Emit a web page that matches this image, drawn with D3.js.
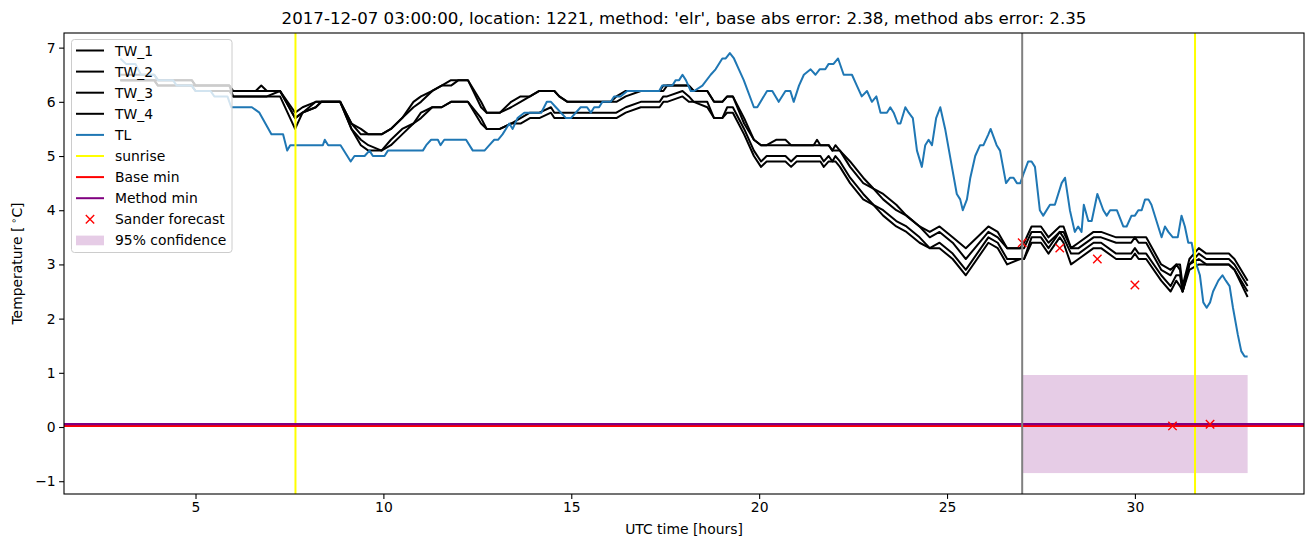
<!DOCTYPE html>
<html><head><meta charset="utf-8">
<script src="https://cdn.jsdelivr.net/npm/d3@7"></script>
<style>body{margin:0;background:#fff}svg{display:block}text{font-family:"DejaVu Sans",sans-serif}</style>
</head><body><svg id="c" width="1313" height="547"></svg>
<script>
// ---------------- data ----------------
const titleText = "2017-12-07 03:00:00, location: 1221, method: 'elr', base abs error: 2.38, method abs error: 2.35";
const xTicks = [5, 10, 15, 20, 25, 30];
const yTicks = [-1, 0, 1, 2, 3, 4, 5, 6, 7];

const twTime = [3.0,3.9,4.0,4.9,5.0,5.9,6.0,6.6,6.75,6.9,
 7.25,7.65,7.85,8.2,8.35,8.85,9.15,9.4,9.6,9.95,
 10.2,10.5,10.8,11.0,11.3,11.55,11.8,12.0,12.25,12.6,
 12.75,13.1,13.4,13.65,13.9,14.15,14.46,14.55,14.68,14.9,
 16.05,16.2,16.45,16.85,17.35,17.45,17.55,17.96,18.13,18.26,
 18.62,18.8,19.02,19.15,19.3,19.6,19.86,20.05,20.2,20.45,
 20.7,20.85,21.0,21.45,21.54,21.63,21.72,21.85,21.95,22.03,
 22.15,22.42,22.77,23.04,23.3,23.65,23.92,24.27,24.54,24.8,
 25.15,25.5,26.1,26.35,26.6,26.95,27.05,27.25,27.5,27.7,
 28.0,28.1,28.3,28.5,28.9,29.1,29.5,29.9,30.0,30.1,
 30.3,30.7,30.95,31.1,31.2,31.27,31.45,31.7,31.9,32.4,
 32.5,32.65,33.0];
const tw1 = [6.5,6.5,6.4,6.4,6.3,6.3,6.2,6.2,6.3,6.2,
 6.2,5.8,5.9,6.0,6.0,6.0,5.6,5.5,5.4,5.4,
 5.5,5.7,5.9,6.0,6.2,6.3,6.3,6.4,6.4,5.9,
 5.8,5.8,6.0,6.1,6.1,6.2,6.2,6.2,6.1,6.0,
 6.0,6.1,6.2,6.2,6.2,6.3,6.3,6.3,6.3,6.2,
 6.2,6.0,6.0,6.1,6.1,5.7,5.3,5.2,5.2,5.3,
 5.3,5.2,5.2,5.2,5.3,5.2,5.2,5.2,5.1,5.2,
 5.1,4.9,4.6,4.4,4.3,4.1,3.9,3.7,3.6,3.7,
 3.5,3.3,3.7,3.6,3.3,3.3,3.4,3.7,3.7,3.5,
 3.7,3.7,3.3,3.4,3.6,3.6,3.5,3.5,3.5,3.5,
 3.5,3.0,2.9,3.0,3.0,2.6,3.1,3.3,3.2,3.2,
 3.2,3.1,2.7];
const tw2 = [6.4,6.4,6.4,6.4,6.3,6.3,6.2,6.2,6.2,6.2,
 6.2,5.7,5.8,6.0,6.0,6.0,5.6,5.4,5.4,5.4,
 5.5,5.7,6.0,6.1,6.2,6.3,6.4,6.4,6.4,6.0,
 5.8,5.8,5.9,6.0,6.1,6.2,6.2,6.2,6.1,6.0,
 6.0,6.0,6.1,6.2,6.2,6.2,6.3,6.3,6.3,6.2,
 6.2,6.0,6.0,6.1,6.1,5.6,5.3,5.2,5.2,5.2,
 5.2,5.2,5.2,5.2,5.2,5.2,5.2,5.2,5.1,5.1,
 5.1,4.8,4.5,4.4,4.2,4.0,3.9,3.7,3.5,3.6,
 3.4,3.1,3.6,3.5,3.3,3.3,3.3,3.6,3.6,3.4,
 3.6,3.6,3.3,3.3,3.5,3.5,3.4,3.4,3.5,3.4,
 3.4,2.9,2.8,3.0,2.9,2.5,3.0,3.2,3.1,3.1,
 3.1,3.0,2.6];
const tw3 = [6.4,6.4,6.3,6.3,6.3,6.3,6.1,6.1,6.1,6.1,
 6.2,5.7,5.8,5.9,6.0,6.0,5.5,5.3,5.2,5.1,
 5.3,5.5,5.6,5.8,5.9,5.9,6.0,6.0,6.0,5.7,
 5.5,5.5,5.6,5.7,5.8,5.8,5.9,5.8,5.8,5.8,
 5.8,5.8,5.9,6.0,6.0,6.1,6.1,6.2,6.1,6.0,
 6.0,5.7,5.7,5.9,5.9,5.5,5.1,4.9,5.0,5.0,
 5.0,4.9,5.0,5.0,5.0,5.0,4.9,5.0,4.9,5.0,
 4.9,4.6,4.3,4.1,4.0,3.8,3.7,3.5,3.3,3.4,
 3.2,2.9,3.5,3.4,3.1,3.1,3.1,3.5,3.5,3.3,
 3.6,3.5,3.2,3.2,3.4,3.4,3.2,3.2,3.3,3.2,
 3.2,2.8,2.6,2.8,2.8,2.5,3.0,3.1,3.0,3.0,
 3.0,2.9,2.5];
const tw4 = [6.4,6.4,6.3,6.3,6.2,6.2,6.1,6.1,6.1,6.1,
 6.1,5.5,5.8,5.9,6.0,6.0,5.5,5.2,5.1,5.1,
 5.2,5.4,5.6,5.7,5.9,5.9,6.0,6.0,6.0,5.6,
 5.5,5.5,5.6,5.6,5.7,5.7,5.8,5.7,5.7,5.7,
 5.7,5.7,5.8,5.9,5.9,6.0,6.0,6.1,6.0,6.0,
 5.9,5.7,5.7,5.8,5.8,5.4,5.0,4.8,4.9,4.9,
 4.9,4.8,4.9,4.9,4.9,4.9,4.8,4.9,4.9,4.9,
 4.8,4.5,4.2,4.1,3.9,3.7,3.6,3.4,3.3,3.3,
 3.1,2.8,3.4,3.3,3.0,3.1,3.1,3.4,3.4,3.2,
 3.5,3.4,3.0,3.1,3.3,3.3,3.1,3.1,3.2,3.1,
 3.1,2.7,2.5,2.7,2.6,2.5,2.9,3.0,3.0,3.0,
 3.0,2.9,2.4];

const tlTime = [3.0,3.15,3.4,3.55,3.9,4.0,4.4,4.5,4.9,5.0,5.4,5.5,5.85,5.95,6.5,6.7,7.02,7.33,7.44,7.52,
 8.39,8.44,8.53,8.86,9.13,9.23,9.5,9.63,9.72,10.03,10.12,11.05,11.14,11.27,11.45,11.52,11.62,12.2,12.38,12.69,
 12.82,12.95,13.05,13.17,13.26,13.35,13.44,13.57,13.75,14.2,14.35,14.46,14.59,14.86,14.99,15.25,15.42,15.52,15.61,15.74,
 15.83,16.05,16.14,16.31,16.49,17.34,17.42,17.69,17.78,17.87,17.96,18.05,18.18,18.27,18.49,18.71,18.84,19.02,19.11,19.22,
 19.33,19.46,19.59,19.86,19.95,20.21,20.35,20.52,20.7,20.83,20.92,21.06,21.19,21.37,21.5,21.61,21.76,21.85,21.98,22.1,
 22.25,22.47,22.6,22.73,22.87,23.0,23.12,23.23,23.4,23.49,23.58,23.69,23.76,23.89,23.98,24.09,24.2,24.33,24.42,24.51,
 24.6,24.71,24.82,24.95,25.13,25.26,25.35,25.42,25.53,25.62,25.75,25.88,25.97,26.1,26.16,26.32,26.41,26.57,26.68,26.77,
 26.86,26.95,27.05,27.16,27.25,27.34,27.47,27.56,27.74,27.87,28.05,28.14,28.27,28.4,28.49,28.58,28.64,28.76,28.85,29.0,
 29.16,29.25,29.34,29.52,29.69,29.78,29.91,30.0,30.09,30.18,30.27,30.36,30.44,30.62,30.71,30.8,30.89,31.01,31.14,31.24,
 31.33,31.42,31.51,31.59,31.73,31.82,31.91,32.0,32.08,32.22,32.33,32.42,32.52,32.61,32.74,32.83,32.92,33.0];
const tlTemp = [6.8,6.7,6.7,6.5,6.5,6.4,6.4,6.3,6.3,6.2,6.2,6.1,6.1,5.9,5.9,5.8,5.4,5.4,5.1,5.2,
 5.2,5.3,5.2,5.2,4.9,5.0,5.0,5.1,5.0,5.0,5.1,5.1,5.2,5.3,5.3,5.2,5.3,5.3,5.1,5.1,
 5.2,5.3,5.3,5.4,5.5,5.6,5.5,5.7,5.8,5.8,6.0,6.0,5.9,5.7,5.7,5.9,5.9,5.8,5.9,5.9,
 6.0,6.0,6.1,6.1,6.2,6.2,6.3,6.3,6.4,6.4,6.5,6.4,6.2,6.2,6.3,6.5,6.6,6.8,6.8,6.9,
 6.8,6.6,6.4,5.9,5.9,6.2,6.2,6.0,6.2,6.2,6.0,6.3,6.5,6.6,6.5,6.6,6.6,6.7,6.7,6.8,
 6.5,6.5,6.3,6.1,6.2,6.0,6.1,5.8,5.8,5.9,5.8,5.6,5.6,5.9,5.8,5.7,5.1,4.8,5.2,5.3,
 5.2,5.7,5.9,5.5,4.8,4.3,4.2,4.0,4.2,4.6,5.0,5.2,5.2,5.4,5.5,5.2,5.1,4.5,4.6,4.6,
 4.5,4.5,4.7,4.9,4.9,4.8,4.0,3.9,4.1,4.1,4.5,4.6,4.0,3.6,3.7,3.6,4.1,3.8,3.8,4.3,
 4.0,3.9,4.0,4.0,3.7,3.7,3.9,3.9,4.0,4.0,4.2,4.2,4.1,3.7,3.5,3.7,3.6,3.5,3.5,3.9,
 3.7,3.4,3.4,3.1,2.8,2.3,2.2,2.3,2.5,2.7,2.8,2.7,2.6,2.2,1.7,1.4,1.3,1.3];

const sunriseTimes = [7.66, 31.6];
const forecastStart = [27.0];
const baseMin = [0.022];
const methodMin = [0.055];
const sanderTime = [27, 28, 29, 30, 31, 32];
const sanderTemp = [3.4, 3.3, 3.1, 2.62, 0.02, 0.05];
const confTime = [27.0, 33.0];
const confRange = [-0.85, 0.96];
const legendLabels = ["TW_1", "TW_2", "TW_3", "TW_4", "TL", "sunrise", "Base min", "Method min", "Sander forecast", "95% confidence"];

// ---------------- drawing ----------------
const svg = d3.select("#c");
const L = 64, R = 1304, T = 33, B = 494;
const x = d3.scaleLinear().domain([1.5, 34.5]).range([L, R]);
const y = d3.scaleLinear().domain([-1.236, 7.27]).range([B, T]);

svg.append("defs").append("clipPath").attr("id", "clip")
  .append("rect").attr("x", L).attr("y", T).attr("width", R - L).attr("height", B - T);
const plot = svg.append("g").attr("clip-path", "url(#clip)");

// confidence box (patch, below lines)
plot.append("rect")
  .attr("x", x(confTime[0])).attr("width", x(confTime[1]) - x(confTime[0]))
  .attr("y", y(confRange[1])).attr("height", y(confRange[0]) - y(confRange[1]))
  .attr("fill", "purple").attr("fill-opacity", 0.2);

const line = d3.line().x(d => x(d[0])).y(d => y(d[1]));
[tw1, tw2, tw3, tw4].forEach(s => {
  plot.append("path").datum(twTime.map((t, i) => [t, s[i]]))
    .attr("d", line).attr("fill", "none").attr("stroke", "black")
    .attr("stroke-width", 2).attr("stroke-linejoin", "round");
});
plot.append("path").datum(tlTime.map((t, i) => [t, tlTemp[i]]))
  .attr("d", line).attr("fill", "none").attr("stroke", "#1f77b4")
  .attr("stroke-width", 2).attr("stroke-linejoin", "round");

sunriseTimes.forEach(t => plot.append("line").attr("x1", x(t)).attr("x2", x(t))
  .attr("y1", T).attr("y2", B).attr("stroke", "#ffff00").attr("stroke-width", 2));
baseMin.forEach(v => plot.append("line").attr("x1", L).attr("x2", R)
  .attr("y1", y(v)).attr("y2", y(v)).attr("stroke", "red").attr("stroke-width", 2.5));
methodMin.forEach(v => plot.append("line").attr("x1", L).attr("x2", R)
  .attr("y1", y(v)).attr("y2", y(v)).attr("stroke", "purple").attr("stroke-width", 2.2));

const xm = 4.2;
sanderTime.forEach((t, i) => {
  const cx = x(t), cy = y(sanderTemp[i]);
  plot.append("path").attr("d", `M${cx - xm},${cy - xm}L${cx + xm},${cy + xm}M${cx - xm},${cy + xm}L${cx + xm},${cy - xm}`)
    .attr("stroke", "red").attr("stroke-width", 1.4).attr("fill", "none");
});
forecastStart.forEach(t => plot.append("line").attr("x1", x(t)).attr("x2", x(t))
  .attr("y1", T).attr("y2", B).attr("stroke", "gray").attr("stroke-width", 2));

// axes
const xAxis = svg.append("g").attr("transform", `translate(0,${B})`)
  .call(d3.axisBottom(x).tickValues(xTicks).tickSize(4.9).tickPadding(3.5).tickFormat(d3.format("d")));
const yAxis = svg.append("g").attr("transform", `translate(${L},0)`)
  .call(d3.axisLeft(y).tickValues(yTicks).tickSize(4.9).tickPadding(3.5).tickFormat(d => d < 0 ? "\u2212" + Math.abs(d) : d));
[xAxis, yAxis].forEach(a => {
  a.select(".domain").remove();
  a.selectAll("line").attr("stroke", "black").attr("stroke-width", 1.1);
  a.selectAll("text").attr("font-size", "13.9px").attr("font-family", "DejaVu Sans").attr("fill", "black");
});
svg.append("rect").attr("x", L).attr("y", T).attr("width", R - L).attr("height", B - T)
  .attr("fill", "none").attr("stroke", "black").attr("stroke-width", 1.1);

// titles
svg.append("text").attr("x", (L + R) / 2).attr("y", 23.5).attr("text-anchor", "middle")
  .attr("font-size", "16.67px").text(titleText);
svg.append("text").attr("x", (L + R) / 2).attr("y", 534).attr("text-anchor", "middle")
  .attr("font-size", "13.9px").text("UTC time [hours]");
const yl = svg.append("text").attr("transform", `translate(22,${(T + B) / 2}) rotate(-90)`)
  .attr("text-anchor", "middle").attr("font-size", "13.9px");
yl.append("tspan").text("Temperature [");
yl.append("tspan").attr("font-size", "9.7px").attr("dx", 3).attr("dy", -5).text("\u2218");
yl.append("tspan").attr("dy", 5).text("C]");

// legend
const lg = svg.append("g");
lg.append("rect").attr("x", 71.5).attr("y", 39.5).attr("width", 160.5).attr("height", 213)
  .attr("rx", 3).attr("fill", "white").attr("fill-opacity", 0.8).attr("stroke", "#cccccc").attr("stroke-width", 1);
const colors = ["black", "black", "black", "black", "#1f77b4", "#ffff00", "red", "purple", null, null];
legendLabels.forEach((lab, i) => {
  const cy = 50.5 + i * 21.1;
  if (i < 8) {
    lg.append("line").attr("x1", 76).attr("x2", 104).attr("y1", cy).attr("y2", cy)
      .attr("stroke", colors[i]).attr("stroke-width", 2);
  } else if (i === 8) {
    const cx = 90;
    lg.append("path").attr("d", `M${cx - xm},${cy - xm}L${cx + xm},${cy + xm}M${cx - xm},${cy + xm}L${cx + xm},${cy - xm}`)
      .attr("stroke", "red").attr("stroke-width", 1.4);
  } else {
    lg.append("rect").attr("x", 76).attr("y", cy - 4.8).attr("width", 28).attr("height", 9.7)
      .attr("fill", "purple").attr("fill-opacity", 0.2);
  }
  lg.append("text").attr("x", 115).attr("y", cy + 5).attr("font-size", "13.9px").text(lab);
});
</script></body></html>
